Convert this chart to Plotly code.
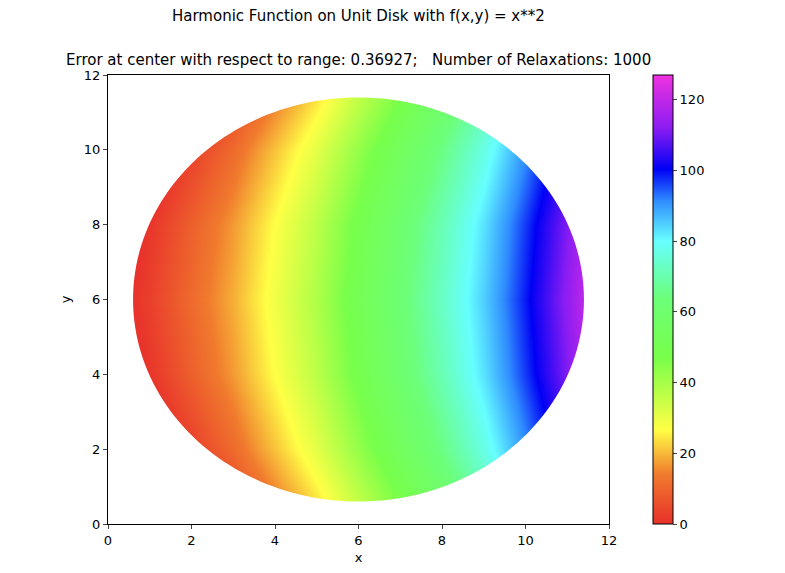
import numpy as np
import plotly.graph_objects as go

x_vals = [0, 1, 2, 3, 4, 5, 6, 7, 8, 9, 10, 11, 12]
y_vals = [0, 2, 4, 6, 8, 10, 12]
row_y6 = [-21, -15, -7, 1, 11, 21, 33, 44, 55, 67, 81, 95, 111]
row_y4 = [-11, -5, 3, 11, 21, 31, 43, 54, 65, 77, 91, 105, 121]
row_y2 = [-5, 1, 9, 17, 27, 37, 49, 60, 71, 83, 97, 111, 127]
row_y0 = [-3, 3, 11, 19, 29, 39, 51, 62, 73, 85, 99, 113, 129]
z_rows = [row_y6, row_y4, row_y2, row_y0, row_y2, row_y4, row_y6]
colorbar_ticks = [0, 20, 40, 60, 80, 100, 120]

cx, cy, r = 6.0, 6.0, 5.4

cs = [[0, '#e8312b'], [0.11, '#f07a2d'], [0.21, '#ffff45'], [0.37, '#78ff4a'],
      [0.5, '#6cff78'], [0.63, '#66ffff'], [0.72, '#2f8cff'], [0.79, '#0000f5'],
      [0.88, '#8a1cf2'], [1, '#f032e0']]

fig = go.Figure(go.Heatmap(
    x=x_vals, y=y_vals, z=z_rows, zsmooth='best', zmin=0, zmax=127,
    colorscale=cs,
    colorbar=dict(x=1.068, xanchor='left', thickness=20, len=1, lenmode='fraction',
                  y=0, yanchor='bottom', ypad=0,
                  outlinewidth=1, outlinecolor='black', tickvals=colorbar_ticks,
                  ticks='outside', ticklen=4, tickfont=dict(size=13))))

t = np.linspace(0, 2*np.pi, 200)
circ = " ".join(f"L{cx + r*np.cos(a):.4f},{cy + r*np.sin(a):.4f}" for a in t[1:])
path = (f"M-1,-1 L13,-1 L13,13 L-1,13 Z "
        f"M{cx + r:.4f},{cy:.4f} {circ} Z")
fig.add_shape(type='path', path=path, xref='x', yref='y', fillcolor='white',
              line=dict(width=0), fillrule='evenodd', layer='above')

ax = dict(range=[0, 12], tickvals=[0, 2, 4, 6, 8, 10, 12], showgrid=False, zeroline=False,
          showline=True, mirror=True, linecolor='black', linewidth=1,
          ticks='outside', ticklen=4, tickfont=dict(size=13), automargin=False)
fig.update_layout(
    width=785, height=573,
    margin=dict(l=100, r=184, t=67, b=57, autoexpand=False),
    plot_bgcolor='white', paper_bgcolor='white',
    font=dict(family='DejaVu Sans', color='black'),
    xaxis=dict(ax, title=dict(text='x', font=dict(size=13), standoff=6)),
    yaxis=dict(ax, title=dict(text='y', font=dict(size=13), standoff=10)),
    annotations=[
        dict(text='Harmonic Function on Unit Disk with f(x,y) = x**2', xref='paper', yref='paper',
             x=0.5, y=1, yshift=48, xanchor='center', yanchor='bottom', showarrow=False,
             font=dict(size=15), xshift=0),
        dict(text='Error at center with respect to range: 0.36927;   Number of Relaxations: 1000',
             xref='paper', yref='paper', x=0.5, y=1, yshift=4, xanchor='center',
             yanchor='bottom', showarrow=False, font=dict(size=15)),
    ],
)
fig.write_html("out.html")
